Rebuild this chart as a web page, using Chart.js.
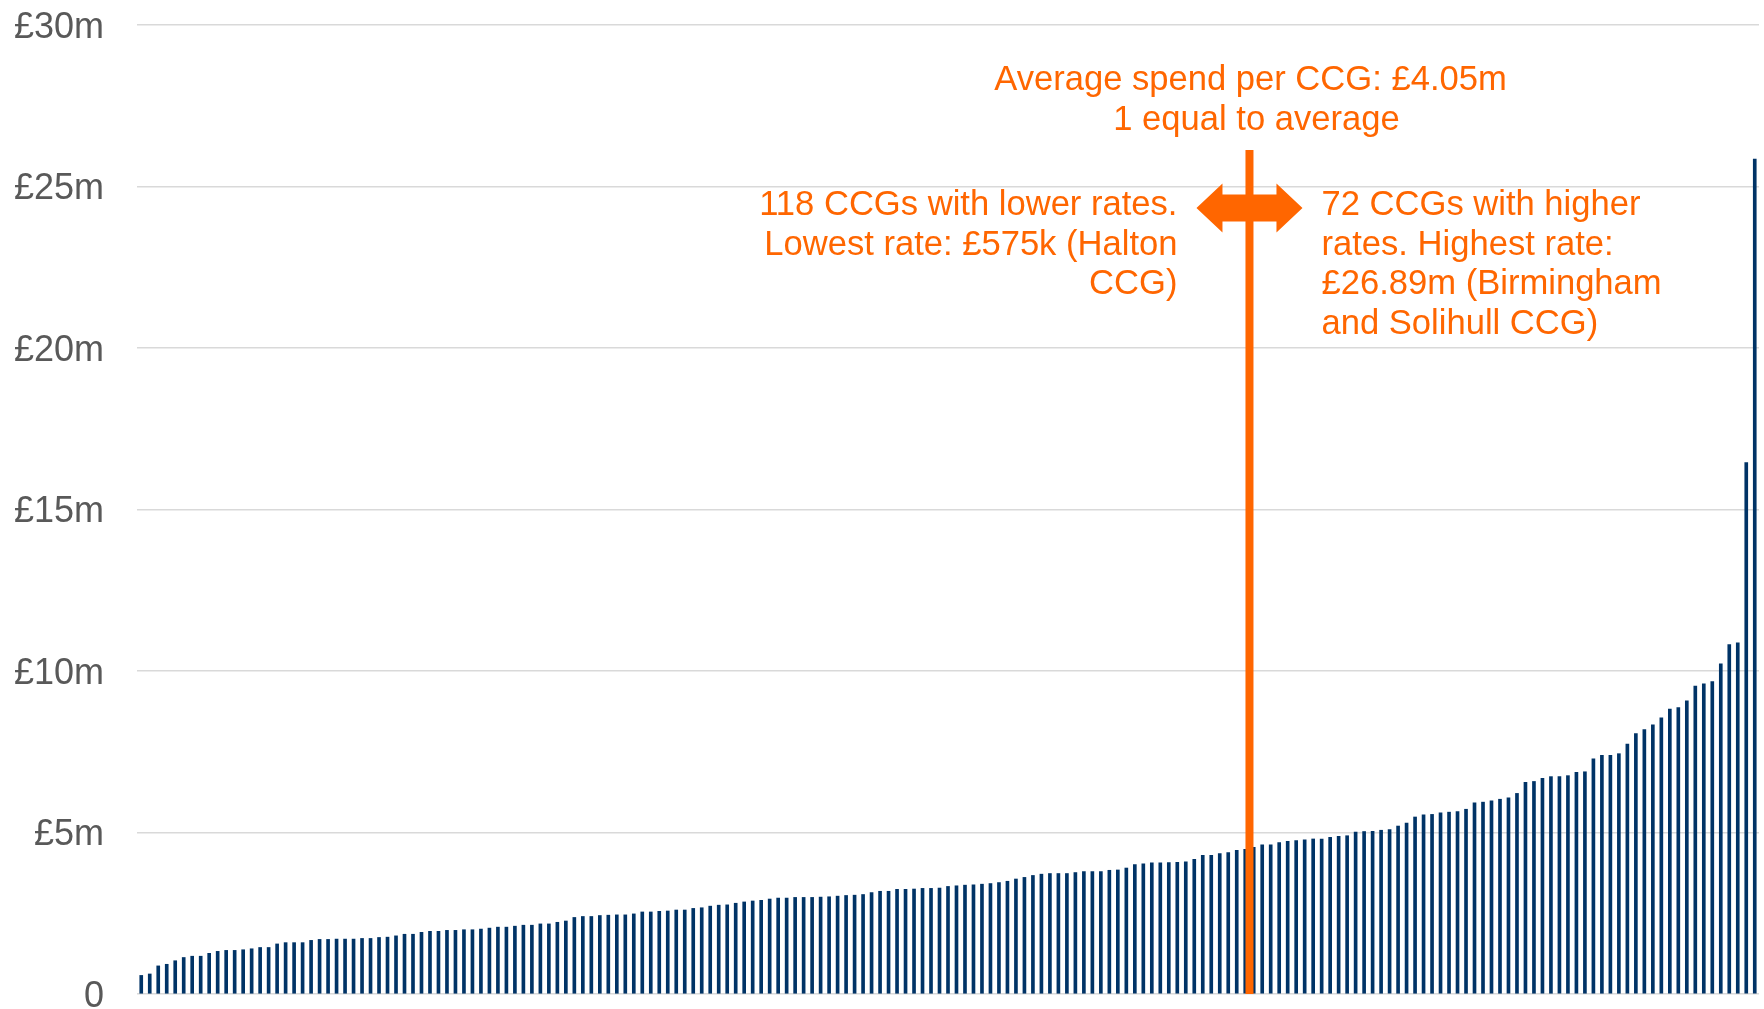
<!DOCTYPE html>
<html>
<head>
<meta charset="utf-8">
<script src="https://cdn.jsdelivr.net/npm/chart.js@4/dist/chart.umd.min.js"></script>
<style>
  html, body { margin: 0; padding: 0; background: #ffffff; }
  #wrap { position: relative; width: 1764px; height: 1009px; }
</style>
</head>
<body>
<div id="wrap"><canvas id="c"></canvas></div>
<script>
// ---- Data (£m, sorted ascending) ----
const spend = [
  0.575, 0.62, 0.87, 0.92, 1.03, 1.13, 1.17, 1.17, 1.26, 1.32,
  1.35, 1.35, 1.37, 1.40, 1.44, 1.44, 1.55, 1.59, 1.59, 1.59,
  1.66, 1.69, 1.69, 1.70, 1.70, 1.70, 1.72, 1.72, 1.75, 1.76,
  1.80, 1.85, 1.85, 1.91, 1.94, 1.94, 1.97, 1.97, 1.99, 1.99,
  2.01, 2.04, 2.07, 2.07, 2.10, 2.13, 2.13, 2.17, 2.17, 2.22,
  2.26, 2.37, 2.40, 2.40, 2.43, 2.44, 2.45, 2.45, 2.48, 2.54,
  2.54, 2.56, 2.57, 2.60, 2.60, 2.65, 2.67, 2.72, 2.75, 2.76,
  2.81, 2.85, 2.88, 2.90, 2.94, 2.97, 2.97, 2.99, 2.99, 2.99,
  3.00, 3.01, 3.03, 3.05, 3.06, 3.08, 3.14, 3.18, 3.18, 3.24,
  3.24, 3.25, 3.27, 3.27, 3.28, 3.33, 3.35, 3.37, 3.38, 3.40,
  3.42, 3.45, 3.49, 3.56, 3.61, 3.67, 3.71, 3.73, 3.73, 3.73,
  3.76, 3.79, 3.79, 3.79, 3.83, 3.84, 3.90, 4.01, 4.03, 4.06,
  4.06, 4.07, 4.08, 4.09, 4.17, 4.29, 4.29, 4.35, 4.38, 4.45,
  4.48, 4.54, 4.62, 4.62, 4.69, 4.73, 4.75, 4.77, 4.80, 4.80,
  4.85, 4.88, 4.90, 5.01, 5.03, 5.04, 5.07, 5.09, 5.20, 5.29,
  5.48, 5.55, 5.56, 5.61, 5.63, 5.65, 5.72, 5.92, 5.94, 5.98,
  6.03, 6.07, 6.21, 6.55, 6.58, 6.68, 6.73, 6.73, 6.76, 6.86,
  6.88, 7.28, 7.39, 7.39, 7.44, 7.74, 8.06, 8.19, 8.33, 8.55,
  8.82, 8.87, 9.08, 9.53, 9.60, 9.67, 10.22, 10.82, 10.87, 16.45,
  25.85
];
const ccgRanks = spend.map((_, i) => String(i + 1));
const yTickLabels = ['0', '£5m', '£10m', '£15m', '£20m', '£25m', '£30m'];

// Annotation content
const averagePosition = 130.5; // category position of the average marker
const averageLines = ['Average spend per CCG: £4.05m', '1 equal to average'];
const lowerLines = ['118 CCGs with lower rates.', 'Lowest rate: £575k (Halton', 'CCG)'];
const higherLines = ['72 CCGs with higher', 'rates. Highest rate:', '£26.89m (Birmingham', 'and Solihull CCG)'];

// ---- Styles ----
const NAVY = '#003366';
const ORANGE = '#FF6600';
const GREY_TEXT = '#595959';
const GRID = '#d9d9d9';
const FONT = '"Liberation Sans", Arial, sans-serif';

const annotationPlugin = {
  id: 'averageMarker',
  afterDatasetsDraw(chart) {
    const ctx = chart.ctx;
    const xs = chart.scales.x;
    const ys = chart.scales.y;
    const cx = xs.getPixelForValue(averagePosition);
    const base = ys.getPixelForValue(0);
    const lineTop = 150;
    ctx.save();
    // vertical line
    ctx.fillStyle = ORANGE;
    ctx.fillRect(cx - 4, lineTop, 8, base - lineTop);
    // double-headed arrow
    const ay = 208;
    const half = 53, head = 26, headH = 24.5, shaftH = 13.5;
    ctx.beginPath();
    ctx.moveTo(cx - half, ay);
    ctx.lineTo(cx - half + head, ay - headH);
    ctx.lineTo(cx - half + head, ay - shaftH);
    ctx.lineTo(cx + half - head, ay - shaftH);
    ctx.lineTo(cx + half - head, ay - headH);
    ctx.lineTo(cx + half, ay);
    ctx.lineTo(cx + half - head, ay + headH);
    ctx.lineTo(cx + half - head, ay + shaftH);
    ctx.lineTo(cx - half + head, ay + shaftH);
    ctx.lineTo(cx - half + head, ay + headH);
    ctx.closePath();
    ctx.fill();
    // texts
    ctx.font = '34.6px ' + FONT;
    ctx.textBaseline = 'alphabetic';
    ctx.textAlign = 'center';
    ctx.fillText(averageLines[0], cx + 1, 90);
    ctx.fillText(averageLines[1], cx + 7, 130);
    ctx.textAlign = 'right';
    lowerLines.forEach((t, i) => ctx.fillText(t, cx - 72, 215 + i * 39.5));
    ctx.textAlign = 'left';
    higherLines.forEach((t, i) => ctx.fillText(t, cx + 72, 215 + i * 39.5));
    ctx.restore();
  }
};

new Chart(document.getElementById('c'), {
  type: 'bar',
  data: {
    labels: ccgRanks,
    datasets: [{
      data: spend,
      backgroundColor: NAVY,
      borderWidth: 0,
      barThickness: 3
    }]
  },
  options: {
    responsive: true,
    maintainAspectRatio: false,
    animation: false,
    events: [],
    layout: { padding: { left: 0, right: 5, top: 25, bottom: 15 } },
    plugins: { legend: { display: false }, tooltip: { enabled: false }, title: { display: false } },
    scales: {
      x: {
        display: false,
        grid: { display: false }
      },
      y: {
        min: 0,
        max: 30,
        afterFit(scale) {
          scale.width = 137;
          scale.paddingTop = 0;
          scale.paddingBottom = 0;
        },
        border: { display: false },
        grid: { color: GRID, lineWidth: 1.5, drawTicks: false },
        ticks: {
          stepSize: 5,
          padding: 33,
          labelOffset: 3,
          color: GREY_TEXT,
          font: { family: FONT, size: 36 },
          callback: (v, i) => yTickLabels[i]
        }
      }
    }
  },
  plugins: [annotationPlugin]
});
</script>
</body>
</html>
